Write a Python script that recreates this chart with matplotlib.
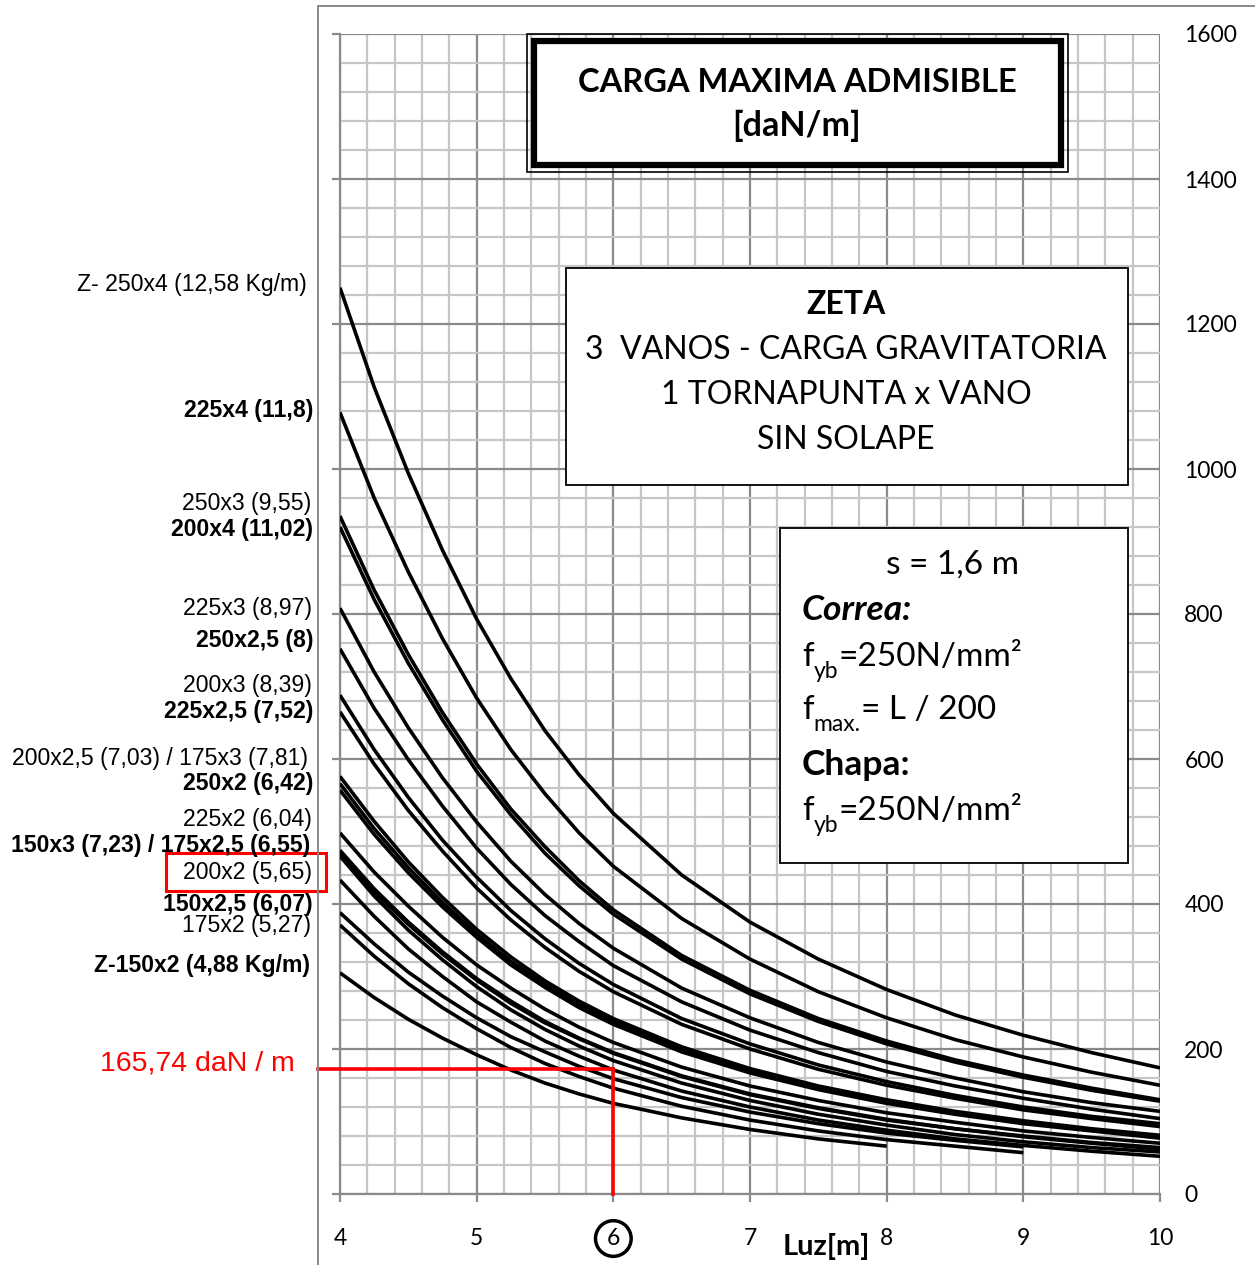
import matplotlib
matplotlib.use("Agg")
import matplotlib.pyplot as plt
from matplotlib.patches import Rectangle
from matplotlib.lines import Line2D
from matplotlib.ticker import MultipleLocator

plt.rcParams['font.family'] = ['Lato', 'DejaVu Sans']

# ---------------- data (daN/m vs span in m) ----------------
luz = [4.0, 4.25, 4.5, 4.75, 5.0, 5.25, 5.5, 5.75, 6.0, 6.5, 7.0, 7.5, 8.0,
       8.5, 9.0, 9.5, 10.0]
z250x4 = [1250, 1113, 994, 888, 793, 711, 639, 578, 525, 440, 375, 324, 282, 247, 219, 195, 174]
z225x4 = [1078, 960, 858, 766, 684, 613, 552, 498, 452, 380, 324, 279, 243, 213, 189, 168, 150]
z250x3 = [935, 833, 744, 664, 593, 531, 479, 432, 392, 329, 281, 242, 211, 185, 164, 146, 130]
z200x4 = [920, 820, 732, 654, 583, 523, 470, 425, 386, 324, 276, 238, 207, 182, 161, 143, 128]
z225x3 = [808, 720, 643, 574, 513, 459, 413, 373, 339, 284, 243, 209, 182, 160, 141, 126, 114]
z250x2_5 = [752, 670, 599, 535, 477, 427, 384, 348, 315, 265, 226, 195, 169, 149, 132, 117, 104]
z200x3 = [688, 613, 547, 488, 437, 391, 352, 318, 289, 242, 207, 178, 155, 136, 120, 107, 97]
z225x2_5 = [665, 593, 529, 473, 422, 378, 340, 307, 279, 234, 200, 172, 150, 132, 116, 104, 93]
z200x2_5 = [576, 514, 458, 409, 365, 327, 294, 266, 242, 203, 173, 149, 130, 114, 101, 90, 81]
z175x3 = [566, 504, 450, 402, 359, 321, 289, 261, 238, 199, 170, 147, 128, 112, 99, 88, 79]
z250x2 = [557, 496, 443, 396, 354, 316, 285, 257, 234, 196, 167, 144, 125, 110, 97, 87, 77]
z225x2 = [498, 444, 397, 354, 316, 284, 255, 230, 209, 175, 149, 129, 112, 99, 87, 78, 70]
z150x3 = [474, 421, 375, 334, 297, 266, 238, 215, 195, 163, 138, 119, 103, 90, 80, 71, 64]
z175x2_5 = [470, 417, 372, 331, 295, 263, 236, 214, 194, 162, 137, 118, 102, 90, 79, 70, 62]
z200x2 = [466, 411, 364, 323, 286, 254, 227, 204, 184, 153, 129, 110, 95, 82, 72, 64, 58]
z150x2_5 = [433, 383, 338, 300, 265, 237, 211, 190, 171, 142, 120, 102, 88, 76, 67, 59, 52]
z175x2 = [388, 345, 306, 273, 243, 217, 196, 176, 159, 133, 113, 97, 84, 74, 65]
z_extra = [371, 328, 290, 257, 228, 202, 180, 162, 146, 121, 102, 87, 75, 66, 57]
z150x2 = [305, 271, 241, 215, 192, 171, 153, 138, 125, 105, 89, 76, 66]

curves = [z250x4, z225x4, z250x3, z200x4, z225x3, z250x2_5, z200x3, z225x2_5,
          z200x2_5, z175x3, z250x2, z225x2, z150x3, z175x2_5, z200x2, z150x2_5,
          z175x2, z_extra, z150x2]

profile_labels = ["Z- 250x4 (12,58 Kg/m)", "225x4 (11,8)", "250x3 (9,55)",
                  "200x4 (11,02)", "225x3 (8,97)", "250x2,5 (8)", "200x3 (8,39)",
                  "225x2,5 (7,52)", "200x2,5 (7,03) / 175x3 (7,81)", "250x2 (6,42)",
                  "225x2 (6,04)", "150x3 (7,23) / 175x2,5 (6,55)", "200x2 (5,65)",
                  "150x2,5 (6,07)", "175x2 (5,27)", "Z-150x2 (4,88 Kg/m)"]
label_bold = [False, True, False, True, False, True, False, True, False, True,
              False, True, False, True, False, True]
label_y = [1254, 1080, 952, 916, 808, 763, 701, 665, 601, 566, 517, 481, 444,
           400, 370, 315]
label_right_px = [307, 313, 311, 313, 312, 313, 312, 313, 308, 313, 312, 310, 312,
                  313, 311, 310]

x_ticks = [4, 5, 6, 7, 8, 9, 10]
y_ticks = [0, 200, 400, 600, 800, 1000, 1200, 1400, 1600]
highlight_span = 6.0
highlight_load = 173  # drawn level of the 165,74 daN/m marker

# ---------------- figure ----------------
W, H = 1255, 1265
fig = plt.figure(figsize=(W / 100, H / 100), dpi=100)
renderer = fig.canvas.get_renderer()


def fx(px):
    return px / W


def fy(py):
    return 1 - py / H


ax = fig.add_axes([fx(340), fy(1194), fx(1160) - fx(340), fy(34) - fy(1194)])
ax.set_xlim(4, 10)
ax.set_ylim(0, 1600)

GMAJ = '#8a8a8a'
GMIN = '#c6c6c6'
ax.xaxis.set_major_locator(MultipleLocator(1))
ax.xaxis.set_minor_locator(MultipleLocator(0.2))
ax.yaxis.set_major_locator(MultipleLocator(200))
ax.yaxis.set_minor_locator(MultipleLocator(40))
ax.grid(which='minor', color=GMIN, lw=1.6)
ax.grid(which='major', color=GMAJ, lw=1.6)
ax.set_axisbelow(True)

for s in ['top', 'right']:
    ax.spines[s].set_visible(False)
for s in ['left', 'bottom']:
    ax.spines[s].set_color(GMAJ)
    ax.spines[s].set_linewidth(1.6)

ax.set_yticks(y_ticks, labels=[str(v) for v in y_ticks])
ax.set_xticks(x_ticks, labels=[str(v) for v in x_ticks])
ax.tick_params(axis='y', which='major', left=True, right=False, labelleft=False,
               labelright=True, length=6, width=1.6, color=GMAJ, pad=11.5,
               labelsize=16.5)
ax.tick_params(axis='x', which='major', bottom=True, length=6, width=1.6,
               color=GMAJ, pad=18.5, labelsize=16.5)
ax.tick_params(which='minor', length=0)

for lab in ax.get_xticklabels():
    if lab.get_text() == '6':
        lab.set_bbox(dict(boxstyle='circle,pad=0.32', fc='none', ec='black', lw=2.5))

for vals in curves:
    ax.plot(luz[:len(vals)], vals, color='black', lw=2.6, solid_capstyle='butt',
            solid_joinstyle='round', zorder=3)

# red highlight
ax.plot([3.839, highlight_span], [highlight_load, highlight_load], color='#ff0000',
        lw=2.6, clip_on=False, zorder=4)
ax.plot([highlight_span, highlight_span], [0, highlight_load], color='#ff0000',
        lw=2.6, clip_on=False, zorder=4)
fig.text(fx(295), fy(1064), "165,74 daN / m", color='#ff0000', ha='right',
         va='center', fontsize=20.5, family='Liberation Sans')

# left labels
for text, yv, b, xr in zip(profile_labels, label_y, label_bold, label_right_px):
    y_fig = fig.transFigure.inverted().transform(ax.transData.transform((4, yv)))[1]
    fig.text(fx(xr), y_fig, text, ha='right', va='center', fontsize=16.6,
             family='Liberation Sans', fontweight='bold' if b else 'normal')

fig.add_artist(Rectangle((fx(166), fy(891)), fx(326) - fx(166), fy(853) - fy(891),
                         transform=fig.transFigure, fill=False, ec='#ff0000', lw=2.2))

# x-axis label
fig.text(fx(826), fy(1246), "Luz[m]", ha='center', va='center', fontsize=21,
         fontweight='bold')

# outer frame
fig.add_artist(Line2D([fx(318), fx(318)], [fy(6), 0], transform=fig.transFigure,
                      color=GMAJ, lw=1.4))
fig.add_artist(Line2D([fx(318), 1], [fy(6), fy(6)], transform=fig.transFigure,
                      color=GMAJ, lw=1.4))

# title box (double border)
fig.add_artist(Rectangle((fx(527), fy(172)), fx(1068) - fx(527), fy(34) - fy(172),
                         transform=fig.transFigure, fill=False, ec='black', lw=1.2,
                         zorder=5))
fig.add_artist(Rectangle((fx(534), fy(165)), fx(1061) - fx(534), fy(41) - fy(165),
                         transform=fig.transFigure, fc='white', ec='black', lw=4.5,
                         zorder=5))
fig.text(fx(797), fy(82), "CARGA MAXIMA ADMISIBLE", ha='center', va='center',
         fontsize=23.5, fontweight='bold', zorder=6)
fig.text(fx(797), fy(126), "[daN/m]", ha='center', va='center', fontsize=24.5,
         fontweight='bold', zorder=6)

# ZETA box
fig.add_artist(Rectangle((fx(566), fy(485)), fx(1128) - fx(566), fy(268) - fy(485),
                         transform=fig.transFigure, fc='white', ec='black', lw=1.3,
                         zorder=5))
zeta_lines = ["ZETA", "3  VANOS - CARGA GRAVITATORIA", "1 TORNAPUNTA x VANO",
              "SIN SOLAPE"]
zeta_y = [305, 350, 395, 440]
for i, (t, yy) in enumerate(zip(zeta_lines, zeta_y)):
    fig.text(fx(846), fy(yy), t, ha='center', va='center', fontsize=23,
             fontweight='bold' if i == 0 else 'normal', zorder=6)

# parameters box
fig.add_artist(Rectangle((fx(780), fy(863)), fx(1128) - fx(780), fy(528) - fy(863),
                         transform=fig.transFigure, fc='white', ec='black', lw=1.3,
                         zorder=5))
fig.text(fx(953), fy(565), "s = 1,6 m", ha='center', va='center', fontsize=24, zorder=6)
fig.text(fx(802), fy(610), "Correa:", ha='left', va='center', fontsize=25.5,
         fontweight='bold', fontstyle='italic', zorder=6)
fig.text(fx(802), fy(765), "Chapa:", ha='left', va='center', fontsize=25.5,
         fontweight='bold', zorder=6)


def sub_text(x_px, base_py, main1, sub, main2, size=24, subsize=16.5, drop=12):
    t1 = fig.text(fx(x_px), fy(base_py), main1, ha='left', va='baseline',
                  fontsize=size, zorder=6)
    x1 = t1.get_window_extent(renderer).x1
    t2 = fig.text(x1 / W, fy(base_py + drop), sub, ha='left', va='baseline',
                  fontsize=subsize, zorder=6)
    x2 = t2.get_window_extent(renderer).x1
    fig.text(x2 / W, fy(base_py), main2, ha='left', va='baseline', fontsize=size,
             zorder=6)


sub_text(802, 666, "f", "yb", "=250N/mm²")
sub_text(802, 719, "f", "max.", "= L / 200")
sub_text(802, 820, "f", "yb", "=250N/mm²")

fig.savefig("out.png", dpi=100)
